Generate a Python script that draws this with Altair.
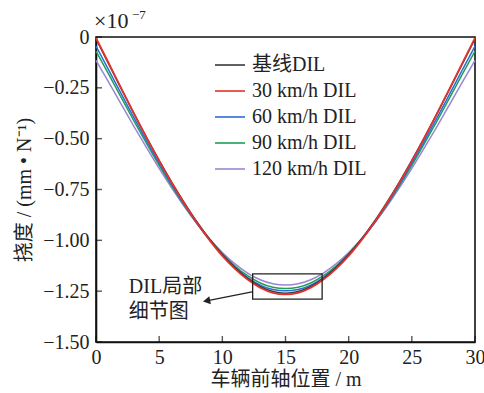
import altair as alt
import pandas as pd

x_pos = list(range(31))
base_dil = [-0.010, -0.132, -0.255, -0.376, -0.494, -0.607, -0.715, -0.816, -0.910, -0.995, -1.070,
            -1.134, -1.187, -1.227, -1.252, -1.260, -1.252, -1.227, -1.187, -1.134, -1.070,
            -0.995, -0.910, -0.816, -0.715, -0.607, -0.494, -0.376, -0.255, -0.132, -0.010]
dil_30 = [-0.004, -0.128, -0.253, -0.376, -0.495, -0.609, -0.718, -0.820, -0.915, -1.000, -1.076,
          -1.140, -1.193, -1.233, -1.258, -1.266, -1.258, -1.233, -1.193, -1.140, -1.076,
          -1.000, -0.915, -0.820, -0.718, -0.609, -0.495, -0.376, -0.253, -0.128, -0.004]
dil_60 = [-0.045, -0.162, -0.280, -0.397, -0.511, -0.622, -0.727, -0.826, -0.917, -0.999, -1.071,
          -1.133, -1.183, -1.220, -1.242, -1.248, -1.242, -1.220, -1.183, -1.133, -1.071,
          -0.999, -0.917, -0.826, -0.727, -0.622, -0.511, -0.397, -0.280, -0.162, -0.045]
dil_90 = [-0.070, -0.183, -0.298, -0.412, -0.523, -0.631, -0.733, -0.829, -0.917, -0.996, -1.066,
          -1.126, -1.174, -1.210, -1.231, -1.237, -1.231, -1.210, -1.174, -1.126, -1.066,
          -0.996, -0.917, -0.829, -0.733, -0.631, -0.523, -0.412, -0.298, -0.183, -0.070]
dil_120 = [-0.115, -0.222, -0.331, -0.439, -0.544, -0.646, -0.743, -0.835, -0.919, -0.994, -1.060,
           -1.116, -1.161, -1.194, -1.214, -1.220, -1.214, -1.194, -1.161, -1.116, -1.060,
           -0.994, -0.919, -0.835, -0.743, -0.646, -0.544, -0.439, -0.331, -0.222, -0.115]

series_names = ["基线DIL", "30 km/h DIL", "60 km/h DIL", "90 km/h DIL", "120 km/h DIL"]
series_colors = ["#3a3a3a", "#e4312b", "#2a6fd4", "#1f9e5a", "#9a86d0"]
series_values = [base_dil, dil_30, dil_60, dil_90, dil_120]
draw_order = ["120 km/h DIL", "90 km/h DIL", "60 km/h DIL", "基线DIL", "30 km/h DIL"]

x_ticks = [0, 5, 10, 15, 20, 25, 30]
y_ticks = [0, -0.25, -0.5, -0.75, -1.0, -1.25, -1.5]

# detail box and arrow annotation (data coordinates)
box_x = [12.4, 17.9]
box_y = [-1.165, -1.289]
arrow_from = [12.35, -1.254]
arrow_to = [8.75, -1.298]
note_lines = ["DIL局部", "细节图"]
note_x = [2.6, 2.6]
note_y = [-1.23, -1.353]
expo_base = "×10"
expo_power = "−7"

FONT = "'Liberation Serif', 'Noto Sans CJK SC'"
FS = 20

rows = []
for name, vals in zip(series_names, series_values):
    for xv, yv in zip(x_pos, vals):
        rows.append({"series": name, "x": xv, "y": yv})
df = pd.DataFrame(rows)

xscale = alt.Scale(domain=[0, 30], nice=False)
yscale = alt.Scale(domain=[-1.5, 0], nice=False)

color = alt.Color(
    "series:N",
    scale=alt.Scale(domain=series_names, range=series_colors),
    legend=alt.Legend(
        title=None, orient="none", legendX=118, legendY=12,
        symbolType="stroke", symbolSize=900, symbolStrokeWidth=1.6,
        labelFont=FONT, labelFontSize=FS, labelColor="#222",
        labelOffset=6, rowPadding=-2, padding=0,
    ),
)

x_enc = alt.X("x:Q", scale=xscale, axis=alt.Axis(
    values=x_ticks, title="车辆前轴位置 / m", ticks=False, grid=False,
    labelFont=FONT, labelFontSize=FS, labelColor="#222", labelPadding=5,
    labelFlush=False, labelOverlap=False, labelBound=False,
    titleFont=FONT, titleFontSize=FS, titleColor="#222", titleFontWeight="normal", titlePadding=2,
    domainColor="#111", domainWidth=1.6))
y_enc = alt.Y("y:Q", scale=yscale, axis=alt.Axis(
    values=y_ticks, title="挠度 / (mm • N⁻¹)", ticks=False, grid=False,
    labelExpr="datum.value == 0 ? '0' : format(datum.value, '.2f')",
    labelFont=FONT, labelFontSize=FS, labelColor="#222", labelPadding=7,
    labelFlush=False, labelOverlap=False,
    titleFont=FONT, titleFontSize=FS, titleColor="#222", titleFontWeight="normal", titlePadding=8,
    domainColor="#111", domainWidth=1.6))

layers = []
for i, name in enumerate(draw_order):
    lc = alt.Chart(df).transform_filter(alt.datum.series == name).mark_line(
        strokeWidth=1.8 if name == "30 km/h DIL" else 1.5, interpolate="monotone"
    ).encode(x=x_enc if i == 0 else "x:Q", y=y_enc if i == 0 else "y:Q", color=color)
    layers.append(lc)

xt = alt.Chart(pd.DataFrame({"x": x_ticks, "y": [-1.5] * len(x_ticks)})).mark_tick(
    orient="vertical", size=6, thickness=1.4, color="#111", yOffset=-3
).encode(x=alt.X("x:Q", scale=xscale), y=alt.Y("y:Q", scale=yscale))
yt = alt.Chart(pd.DataFrame({"x": [0] * len(y_ticks), "y": y_ticks})).mark_tick(
    orient="horizontal", size=6, thickness=1.4, color="#111", xOffset=3
).encode(x=alt.X("x:Q", scale=xscale), y=alt.Y("y:Q", scale=yscale))

box = alt.Chart(pd.DataFrame({"x": [box_x[0]], "x2": [box_x[1]], "y": [box_y[0]], "y2": [box_y[1]]})).mark_rect(
    fillOpacity=0, stroke="#222", strokeWidth=1.3
).encode(x=alt.X("x:Q", scale=xscale), x2="x2:Q", y=alt.Y("y:Q", scale=yscale), y2="y2:Q")

arrow_line = alt.Chart(pd.DataFrame({"x": [arrow_from[0]], "x2": [arrow_to[0]],
                                     "y": [arrow_from[1]], "y2": [arrow_to[1]]})).mark_rule(
    color="#222", strokeWidth=1.3
).encode(x=alt.X("x:Q", scale=xscale), x2="x2:Q", y=alt.Y("y:Q", scale=yscale), y2="y2:Q")

arrow_head = alt.Chart(pd.DataFrame({"x": [arrow_to[0]], "y": [arrow_to[1]]})).mark_point(
    shape="triangle-left", angle=349, size=70, filled=True, color="#222", opacity=1
).encode(x=alt.X("x:Q", scale=xscale), y=alt.Y("y:Q", scale=yscale))

note = alt.Chart(pd.DataFrame({"t": note_lines, "x": note_x, "y": note_y})).mark_text(
    font=FONT, fontSize=FS, align="left", baseline="middle", color="#222"
).encode(x=alt.X("x:Q", scale=xscale), y=alt.Y("y:Q", scale=yscale), text="t:N")

expo1 = alt.Chart(pd.DataFrame({"t": [expo_base]})).mark_text(
    font="Liberation Serif", fontSize=22, align="left", baseline="alphabetic", color="#222"
).encode(x=alt.value(-2), y=alt.value(-9), text="t:N")
expo2 = alt.Chart(pd.DataFrame({"t": [expo_power]})).mark_text(
    font="Liberation Serif", fontSize=13, align="left", baseline="alphabetic", color="#222"
).encode(x=alt.value(36), y=alt.value(-18), text="t:N")

chart = alt.layer(*layers, xt, yt, box, arrow_line, arrow_head, note, expo1, expo2).properties(
    width=379, height=305,
    padding={"left": 96, "top": 37, "right": 9, "bottom": 51},
    autosize=alt.AutoSizeParams(type="none"),
    background="white",
).configure_view(stroke="#111", strokeWidth=1.6)

chart.save("out.html", embed_options={"renderer": "svg", "actions": False})
